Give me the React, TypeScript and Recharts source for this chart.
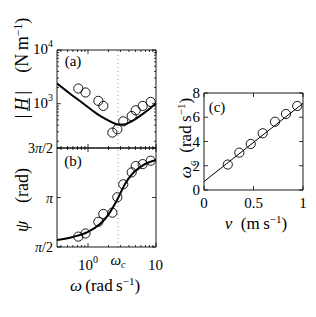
import React from 'react'
import { ComposedChart, Line, Scatter, XAxis, YAxis, ReferenceLine } from 'recharts'

const PI = Math.PI

// measured frequencies (rad/s), shared by (a) and (b)
const omegaMeas = [0.72, 0.92, 1.42, 1.68, 2.28, 2.7, 3.3, 4.39, 5.03, 6.37, 8.36]
// (a) |H| measured (N/m)
const hMeas = [1920, 1620, 1130, 910, 290, 335, 470, 590, 755, 910, 1080]
// (b) psi measured (rad)
const psiMeas = [1.9, 2.0, 2.37, 2.62, 2.66, 3.15, 3.56, 3.94, 4.14, 4.2, 4.31]

// model curves
const omegaFitA = [0.35, 0.54, 0.85, 1.34, 1.8, 2.3, 2.79, 3.38, 4.0, 4.64, 6.5, 10]
const hFitA = [2390, 1550, 1010, 655, 520, 445, 410, 410, 445, 492, 655, 1010]
const omegaFitB = [0.35, 0.6, 1.0, 1.5, 2.0, 2.4, 2.76, 3.5, 4.6, 6.5, 10]
const psiFitB = [1.79, 1.89, 2.05, 2.3, 2.6, 2.88, 3.12, 3.57, 3.92, 4.17, 4.33]

// (c) crossover frequency vs speed
const vMeas = [0.24, 0.357, 0.472, 0.593, 0.717, 0.828, 0.942]
const wcMeas = [2.1, 3.08, 3.8, 4.68, 5.63, 6.27, 6.93]
const vFit = [0, 1]
const wcFit = [0.7, 7.15]

const OMEGA_C = 2.76

const xTicksLog = [0.4, 0.5, 0.6, 0.7, 0.8, 0.9, 1, 2, 3, 4, 5, 6, 7, 8, 9, 10]
const yTicksA = [200, 300, 400, 500, 600, 700, 800, 900, 1000, 2000, 3000, 4000, 5000, 6000, 7000, 8000, 9000, 10000]
const yTicksB = [PI / 2, PI, (3 * PI) / 2]
const xTicksC = [0, 0.5, 1]
const yTicksC = [0, 2, 4, 6, 8]

const measA = omegaMeas.map((w, i) => ({ w, h: hMeas[i] }))
const fitA = omegaFitA.map((w, i) => ({ w, h: hFitA[i] }))
const measB = omegaMeas.map((w, i) => ({ w, p: psiMeas[i] }))
const fitB = omegaFitB.map((w, i) => ({ w, p: psiFitB[i] }))
const measC = vMeas.map((v, i) => ({ v, c: wcMeas[i] }))
const fitC = vFit.map((v, i) => ({ v, c: wcFit[i] }))

const FONT = '"Liberation Serif", "Times New Roman", "DejaVu Serif", serif'

const isDecade = (v: number) => Math.abs(Math.log10(v) - Math.round(Math.log10(v))) < 1e-6

type Side = 'top' | 'bottom' | 'left' | 'right'

// inward tick marks, matlab style, with optional label
function makeTick(side: Side, major: (v: number) => boolean, label?: (v: number, x: number, y: number) => React.ReactNode) {
  return (props: any) => {
    const { x, y, payload } = props
    const v = payload.value
    const len = major(v) ? 4 : 2
    let x2 = x
    let y2 = y
    if (side === 'bottom') y2 = y - len
    if (side === 'top') y2 = y + len
    if (side === 'left') x2 = x + len
    if (side === 'right') x2 = x - len
    return (
      <g>
        <line x1={x} y1={y} x2={x2} y2={y2} stroke="#000" strokeWidth={0.8} />
        {label ? label(v, x, y) : null}
      </g>
    )
  }
}

const Ring = (p: any) => <circle cx={p.cx} cy={p.cy} r={4.6} fill="none" stroke="#000" strokeWidth={0.9} />

const pow10Label = (v: number, x: number, y: number) =>
  isDecade(v) ? (
    <text x={x - 4} y={y + 4} textAnchor="end" fontFamily={FONT} fontSize={15} fill="#000">
      <tspan>10</tspan>
      <tspan dy={-7} fontSize={10}>{Math.round(Math.log10(v))}</tspan>
    </text>
  ) : null

const piLabel = (v: number, x: number, y: number) => {
  const t = v / PI
  return (
    <text x={x - 4} y={y + 5} textAnchor="end" fontFamily={FONT} fontSize={14} fill="#000">
      {t > 1.2 ? '3' : ''}
      <tspan fontStyle="italic">π</tspan>
      {t > 0.9 && t < 1.1 ? '' : '/2'}
    </text>
  )
}

const omegaBottomLabel = (v: number, x: number, y: number) => {
  if (v === 1)
    return (
      <text x={x} y={y + 23} textAnchor="middle" fontFamily={FONT} fontSize={15} fill="#000">
        <tspan>10</tspan>
        <tspan dy={-7} fontSize={10}>0</tspan>
      </text>
    )
  if (v === 10)
    return (
      <text x={x - 8} y={y + 23} textAnchor="start" fontFamily={FONT} fontSize={15} fill="#000">
        10
      </text>
    )
  return null
}

const plainLabelLeft = (v: number, x: number, y: number) => (
  <text x={x - 4} y={y + 5} textAnchor="end" fontFamily={FONT} fontSize={15} fill="#000">
    {v}
  </text>
)

const plainLabelBottom = (v: number, x: number, y: number) => (
  <text x={x} y={y + 18} textAnchor="middle" fontFamily={FONT} fontSize={15} fill="#000">
    {v}
  </text>
)

const WcLabel = (props: any) => {
  const vb = props.viewBox
  if (!vb) return null
  return (
    <text x={vb.x} y={vb.y + vb.height + 18} textAnchor="middle" fontFamily={FONT} fontSize={15} fill="#000">
      <tspan fontStyle="italic">ω</tspan>
      <tspan dy={3} fontSize={10} fontStyle="italic">c</tspan>
    </text>
  )
}

const all = () => true
// axes need a 1px band or recharts skips drawing them
const axisCommon = { tickSize: 0, tickMargin: 0, tickLine: false, axisLine: { stroke: '#000', strokeWidth: 0.9 }, interval: 0 as const }

const Abs = ({ x, y, rotate, size = 16, children }: { x: number; y: number; rotate?: boolean; size?: number; children: React.ReactNode }) => (
  <div
    style={{
      position: 'absolute',
      left: x,
      top: y,
      transform: `translate(-50%, -50%)${rotate ? ' rotate(-90deg)' : ''}`,
      whiteSpace: 'nowrap',
      fontFamily: FONT,
      fontSize: size,
      lineHeight: 1,
      color: '#000',
    }}
  >
    {children}
  </div>
)

const sup = (s: string) => <sup style={{ fontSize: '0.65em', verticalAlign: '0.55em' }}>{s}</sup>

export default function App() {
  return (
    <div style={{ position: 'absolute', left: 0, top: 0, width: 316, height: 317, background: '#fff', overflow: 'hidden' }}>
      {/* (a) magnitude */}
      <div style={{ position: 'absolute', left: 0, top: 0 }}>
        <ComposedChart width={170} height={150} margin={{ top: 49, left: 56, right: 13, bottom: 1 }}>
          <XAxis xAxisId="b" type="number" dataKey="w" scale="log" domain={[0.35, 10]} allowDataOverflow ticks={xTicksLog} height={1} {...axisCommon} tick={makeTick('bottom', isDecade)} />
          <XAxis xAxisId="t" orientation="top" type="number" dataKey="w" scale="log" domain={[0.35, 10]} allowDataOverflow ticks={xTicksLog} height={1} {...axisCommon} tick={makeTick('top', isDecade)} />
          <YAxis yAxisId="l" type="number" dataKey="h" scale="log" domain={[150, 10000]} allowDataOverflow ticks={yTicksA} width={1} {...axisCommon} tick={makeTick('left', isDecade, pow10Label)} />
          <YAxis yAxisId="r" orientation="right" type="number" dataKey="h" scale="log" domain={[150, 10000]} allowDataOverflow ticks={yTicksA} width={1} {...axisCommon} tick={makeTick('right', isDecade)} />
          <ReferenceLine xAxisId="b" yAxisId="l" x={OMEGA_C} stroke="#999" strokeDasharray="1 3" strokeWidth={1} />
          <Line xAxisId="b" yAxisId="l" data={fitA} dataKey="h" type="monotone" stroke="#000" strokeWidth={2} dot={false} isAnimationActive={false} />
          <Scatter xAxisId="b" yAxisId="l" data={measA} dataKey="h" shape={Ring} isAnimationActive={false} />
        </ComposedChart>
      </div>

      {/* (b) phase */}
      <div style={{ position: 'absolute', left: 0, top: 140 }}>
        <ComposedChart width={170} height={170} margin={{ top: 7, left: 56, right: 13, bottom: 62 }}>
          <XAxis xAxisId="b" type="number" dataKey="w" scale="log" domain={[0.35, 10]} allowDataOverflow ticks={xTicksLog} height={1} {...axisCommon} tick={makeTick('bottom', isDecade, omegaBottomLabel)} />
          <XAxis xAxisId="t" orientation="top" type="number" dataKey="w" scale="log" domain={[0.35, 10]} allowDataOverflow ticks={xTicksLog} height={1} {...axisCommon} tick={makeTick('top', isDecade)} />
          <YAxis yAxisId="l" type="number" dataKey="p" domain={[PI / 2, (3 * PI) / 2]} allowDataOverflow ticks={yTicksB} width={1} {...axisCommon} tick={makeTick('left', all, piLabel)} />
          <YAxis yAxisId="r" orientation="right" type="number" dataKey="p" domain={[PI / 2, (3 * PI) / 2]} allowDataOverflow ticks={yTicksB} width={1} {...axisCommon} tick={makeTick('right', all)} />
          <ReferenceLine xAxisId="b" yAxisId="l" x={OMEGA_C} stroke="#999" strokeDasharray="1 3" strokeWidth={1} label={<WcLabel />} />
          <Line xAxisId="b" yAxisId="l" data={fitB} dataKey="p" type="monotone" stroke="#000" strokeWidth={2} dot={false} isAnimationActive={false} />
          <Scatter xAxisId="b" yAxisId="l" data={measB} dataKey="p" shape={Ring} isAnimationActive={false} />
        </ComposedChart>
      </div>

      {/* (c) crossover frequency vs speed */}
      <div style={{ position: 'absolute', left: 160, top: 80 }}>
        <ComposedChart width={156} height={140} margin={{ top: 12, left: 43, right: 12, bottom: 29 }}>
          <XAxis xAxisId="b" type="number" dataKey="v" domain={[0, 1]} allowDataOverflow ticks={xTicksC} height={1} {...axisCommon} tick={makeTick('bottom', all, plainLabelBottom)} />
          <XAxis xAxisId="t" orientation="top" type="number" dataKey="v" domain={[0, 1]} allowDataOverflow ticks={xTicksC} height={1} {...axisCommon} tick={makeTick('top', all)} />
          <YAxis yAxisId="l" type="number" dataKey="c" domain={[0, 8]} allowDataOverflow ticks={yTicksC} width={1} {...axisCommon} tick={makeTick('left', all, plainLabelLeft)} />
          <YAxis yAxisId="r" orientation="right" type="number" dataKey="c" domain={[0, 8]} allowDataOverflow ticks={yTicksC} width={1} {...axisCommon} tick={makeTick('right', all)} />
          <Line xAxisId="b" yAxisId="l" data={fitC} dataKey="c" type="linear" stroke="#000" strokeWidth={1} dot={false} isAnimationActive={false} />
          <Scatter xAxisId="b" yAxisId="l" data={measC} dataKey="c" shape={Ring} isAnimationActive={false} />
        </ComposedChart>
      </div>

      {/* panel tags */}
      <Abs x={73} y={61} size={15}>(a)</Abs>
      <Abs x={73} y={161} size={15}>(b)</Abs>
      <Abs x={217} y={107} size={15}>(c)</Abs>

      {/* axis titles */}
      <Abs x={22} y={68} rotate size={18}>
        |&thinsp;<span style={{ fontStyle: 'italic', textDecoration: 'underline' }}>H</span>&thinsp;|&ensp;&ensp;(N&thinsp;m{sup('−1')})
      </Abs>
      <Abs x={22} y={200} rotate size={18}>
        <span style={{ fontStyle: 'italic' }}>ψ</span>&ensp;&ensp;(rad)
      </Abs>
      <Abs x={105} y={285} size={17}>
        <span style={{ fontStyle: 'italic' }}>ω</span>&thinsp;(rad&thinsp;s{sup('−1')})
      </Abs>
      <Abs x={187} y={138} rotate size={17}>
        <span style={{ fontStyle: 'italic' }}>ω</span>
        <sub style={{ fontSize: '0.65em', fontStyle: 'italic' }}>c</sub>&ensp;(rad&thinsp;s{sup('−1')})
      </Abs>
      <Abs x={256} y={223} size={17}>
        <span style={{ fontStyle: 'italic' }}>v</span>&ensp;(m&thinsp;s{sup('−1')})
      </Abs>
    </div>
  )
}
